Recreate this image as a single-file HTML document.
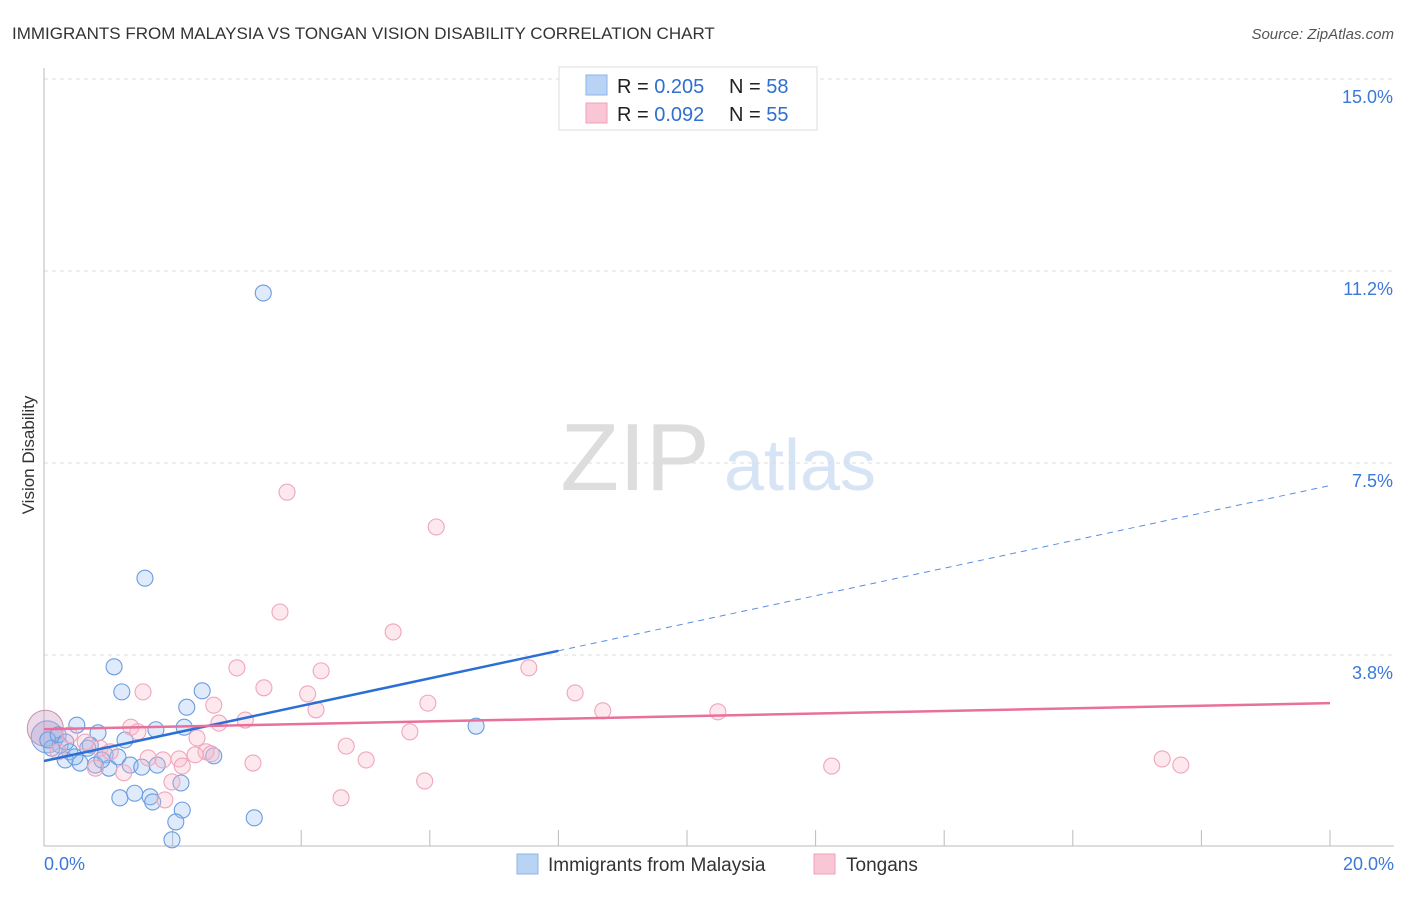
<!DOCTYPE html>
<html><head><meta charset="utf-8"><style>
body{margin:0;background:#fff;font-family:"Liberation Sans",sans-serif;}
svg text{font-family:"Liberation Sans",sans-serif;}
</style></head><body>
<svg id="chart" width="1406" height="892" xmlns="http://www.w3.org/2000/svg">
<text x="12" y="39" font-size="17" fill="#333">IMMIGRANTS FROM MALAYSIA VS TONGAN VISION DISABILITY CORRELATION CHART</text>
<text x="1394" y="39" font-size="15" fill="#555" text-anchor="end" font-style="italic">Source: ZipAtlas.com</text>
<text x="34" y="455" font-size="17" fill="#333" transform="rotate(-90 34 455)" text-anchor="middle">Vision Disability</text>
<g>
<text x="635" y="490" font-size="96" fill="#ddd" font-family="Liberation Serif,serif" text-anchor="middle">ZIP</text>
<text x="800" y="490" font-size="72" fill="#d6e4f5" text-anchor="middle">atlas</text>
</g>
<g id="grid"></g><g id="axes"></g><g id="marks"></g>
<g>
<rect x="559" y="67" width="258" height="63" fill="#fff" stroke="#ddd"/>
<rect x="586" y="75" width="21" height="20" fill="#b9d3f5" stroke="#8db4e8"/>
<rect x="586" y="103" width="21" height="20" fill="#f9c6d5" stroke="#f0a0b8"/>
<text x="617" y="93" font-size="20" fill="#222">R = <tspan fill="#2f6fcf">0.205</tspan></text>
<text x="729" y="93" font-size="20" fill="#222">N = <tspan fill="#2f6fcf">58</tspan></text>
<text x="617" y="121" font-size="20" fill="#222">R = <tspan fill="#2f6fcf">0.092</tspan></text>
<text x="729" y="121" font-size="20" fill="#222">N = <tspan fill="#2f6fcf">55</tspan></text>
</g>
<g>
<rect x="517" y="854" width="21" height="20" fill="#b9d3f5" stroke="#8db4e8"/>
<text x="548" y="871" font-size="19" fill="#333">Immigrants from Malaysia</text>
<rect x="814" y="854" width="21" height="20" fill="#f9c6d5" stroke="#f0a0b8"/>
<text x="846" y="871" font-size="19" fill="#333">Tongans</text>
</g>
</svg>
<script>
const yTicks=[3.75,7.5,11.25,15];
const yTickLabels=["3.8%","7.5%","11.2%","15.0%"];
const xTicks=[0,2,4,6,8,10,12,14,16,18,20];
const blueX=[3.41,1.57,1.09,1.21,2.46,2.22,0.51,0.84,2.18,1.74,6.72,1.26,0.68,0.25,0.40,0.95,1.15,2.64,0.33,0.56,0.80,1.01,1.34,1.52,1.76,0.12,0.06,1.18,1.41,1.65,1.69,2.13,2.15,2.05,1.99,3.27,0.90,0.72,0.48,0.22,0.34];
const blueY=[10.82,5.25,3.52,3.03,3.05,2.73,2.38,2.23,2.34,2.29,2.36,2.09,1.93,1.99,1.86,1.80,1.76,1.78,1.70,1.64,1.60,1.54,1.60,1.56,1.60,1.93,2.09,0.96,1.05,0.98,0.88,1.25,0.72,0.49,0.14,0.57,1.70,1.99,1.76,2.19,2.05];
const pinkX=[3.78,6.10,3.67,5.43,7.54,3.00,4.31,3.42,1.54,4.10,8.26,2.64,5.97,4.23,8.69,10.48,3.13,2.72,1.35,1.46,5.69,2.38,4.70,2.52,2.60,1.62,1.85,2.10,2.35,5.01,3.25,2.15,12.25,17.39,17.68,5.92,1.99,1.24,1.88,4.62,0.40,0.64,0.87,1.03,0.22,0.80];
const pinkY=[6.93,6.25,4.59,4.20,3.50,3.50,3.44,3.11,3.03,2.99,3.01,2.77,2.81,2.68,2.66,2.64,2.48,2.42,2.34,2.25,2.25,2.13,1.97,1.86,1.82,1.74,1.70,1.72,1.80,1.70,1.64,1.58,1.58,1.72,1.60,1.29,1.27,1.45,0.92,0.96,2.19,2.05,1.93,1.86,1.86,1.54];
const blueTrend=[1.68,7.06];
const pinkTrend=[2.30,2.81];
const NS="http://www.w3.org/2000/svg";
const sx=v=>44+v/20*1286, sy=v=>847-v/3.75*192;
function mk(t,a,p){const e=document.createElementNS(NS,t);for(const k in a)e.setAttribute(k,a[k]);document.getElementById(p).appendChild(e);return e;}
yTicks.forEach((t,i)=>{
 const g=mk('line',{x1:44,x2:1394,y1:sy(t),y2:sy(t),stroke:'#ddd','stroke-dasharray':'4,4'},'grid');
 
 
 const l=mk('text',{x:1393,y:sy(t)+24,'font-size':18,fill:'#3b78d8','text-anchor':'end'},'axes');l.textContent=yTickLabels[i];
 
 
});
mk('line',{x1:44,x2:1394,y1:79,y2:79,stroke:'#ddd','stroke-dasharray':'4,4'},'grid');
mk('line',{x1:44,x2:44,y1:68,y2:846,stroke:'#bbb'},'axes');
mk('line',{x1:44,x2:1394,y1:846,y2:846,stroke:'#bbb'},'axes');
xTicks.forEach(t=>{const e=mk('line',{x1:sx(t),x2:sx(t),y1:830,y2:846,stroke:'#bbb'},'axes');
 
 });
[[0,"0.0%",'start',44],[20,"20.0%",'end',1394]].forEach(a=>{const e=mk('text',{x:a[3],y:870,'font-size':18,fill:'#3b78d8','text-anchor':a[2]},'axes');e.textContent=a[1];
 
 });
const b1=mk('circle',{cx:sx(0.05),cy:sy(2.15),r:16,fill:'rgba(140,170,230,0.35)',stroke:'#7aa0e0'},'marks');

const p1=mk('circle',{cx:sx(0.02),cy:sy(2.32),r:18,fill:'rgba(200,150,190,0.35)',stroke:'#c890b0'},'marks');

blueX.forEach((x,i)=>{const c=mk('circle',{cx:sx(x),cy:sy(blueY[i]),r:8,fill:'rgba(150,190,240,0.3)',stroke:'#6b9be0','stroke-width':1.1},'marks');
 
 });
pinkX.forEach((x,i)=>{const c=mk('circle',{cx:sx(x),cy:sy(pinkY[i]),r:8,fill:'rgba(248,180,200,0.3)',stroke:'#f0a5bd','stroke-width':1.1},'marks');
 
 });
const by=x=>blueTrend[0]+(blueTrend[1]-blueTrend[0])*x/20;
const bt=mk('line',{x1:sx(0),y1:sy(by(0)),x2:sx(8),y2:sy(by(8)),stroke:'#2b6fd6','stroke-width':2.5},'marks');

const bd=mk('line',{x1:sx(8),y1:sy(by(8)),x2:sx(20),y2:sy(by(20)),stroke:'#5b8fdc','stroke-width':1,'stroke-dasharray':'6,5'},'marks');

const pt=mk('line',{x1:sx(0),y1:sy(pinkTrend[0]),x2:sx(20),y2:sy(pinkTrend[1]),stroke:'#e8709a','stroke-width':2.5},'marks');

</script>
</body></html>
